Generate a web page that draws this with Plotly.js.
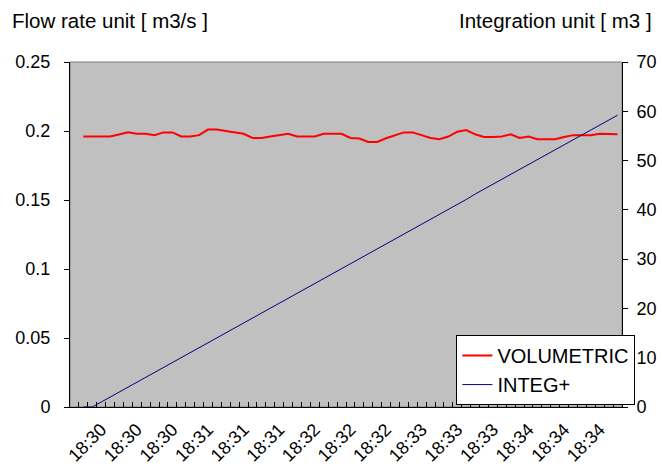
<!DOCTYPE html>
<html>
<head>
<meta charset="utf-8">
<script src="https://cdn.plot.ly/plotly-3.0.1.min.js"></script>
<style>
html,body{margin:0;padding:0;background:#fff;}
#chart{width:662px;height:472px;}
</style>
</head>
<body>
<div id="chart"></div>
<script>
// Time categories (5 s intervals)
var categories = [
 "18:29:45","18:29:50","18:29:55",
 "18:30:00","18:30:05","18:30:10","18:30:15","18:30:20","18:30:25","18:30:30","18:30:35","18:30:40","18:30:45","18:30:50","18:30:55",
 "18:31:00","18:31:05","18:31:10","18:31:15","18:31:20","18:31:25","18:31:30","18:31:35","18:31:40","18:31:45","18:31:50","18:31:55",
 "18:32:00","18:32:05","18:32:10","18:32:15","18:32:20","18:32:25","18:32:30","18:32:35","18:32:40","18:32:45","18:32:50","18:32:55",
 "18:33:00","18:33:05","18:33:10","18:33:15","18:33:20","18:33:25","18:33:30","18:33:35","18:33:40","18:33:45","18:33:50","18:33:55",
 "18:34:00","18:34:05","18:34:10","18:34:15","18:34:20","18:34:25","18:34:30","18:34:35","18:34:40","18:34:45","18:34:50"
];

// Flow rate [m3/s]
var volumetric = [
 null,0.196,0.196,0.196,0.196,0.1975,0.199,0.198,0.198,0.197,0.199,0.199,0.196,0.196,0.197,
 0.201,0.201,0.200,0.199,0.198,0.195,0.195,0.196,0.197,0.198,0.196,0.196,0.196,0.198,0.198,
 0.198,0.195,0.1945,0.192,0.192,0.1947,0.197,0.199,0.199,0.197,0.195,0.194,0.196,0.1995,0.2007,
 0.1976,0.1957,0.1957,0.196,0.1976,0.195,0.196,0.194,0.194,0.194,0.1957,0.197,0.197,0.197,0.198,
 0.198,0.1976
];

// Integration [m3]
var integ = [
 null,0,0,1.0,2.0,3.0,4.0,5.0,6.0,7.0,8.0,9.0,10.0,11.0,12.0,
 13.0,14.0,15.1,16.1,17.1,18.1,19.1,20.1,21.1,22.1,23.1,24.1,25.1,26.1,27.1,
 28.1,29.1,30.1,31.1,32.1,33.1,34.1,35.1,36.1,37.1,38.1,39.1,40.1,41.1,42.1,
 43.2,44.2,45.2,46.2,47.2,48.2,49.2,50.2,51.2,52.2,53.2,54.2,55.2,56.2,57.2,
 58.2,59.2
];

// Tick labels shown on the category axis
var tickCats = ["18:30:00","18:30:20","18:30:40","18:31:00","18:31:20","18:31:40","18:32:00","18:32:20","18:32:40","18:33:00","18:33:20","18:33:40","18:34:00","18:34:20","18:34:40"];
var tickLabels = ["18:30","18:30","18:30","18:31","18:31","18:31","18:32","18:32","18:32","18:33","18:33","18:33","18:34","18:34","18:34"];

var tickText = categories.map(function(c){
  var i = tickCats.indexOf(c);
  return i >= 0 ? tickLabels[i] : "";
});

var FONT = "Liberation Sans, Arial, sans-serif";

var traces = [
  {x: categories, y: volumetric, type: "scatter", mode: "lines", name: "VOLUMETRIC",
   line: {color: "#ff0000", width: 2}, yaxis: "y", connectgaps: false},
  {x: categories, y: integ, type: "scatter", mode: "lines", name: "INTEG+",
   line: {color: "#000080", width: 1}, yaxis: "y2", connectgaps: false}
];

var layout = {
  width: 662, height: 472,
  margin: {l: 70, r: 40, t: 62, b: 65},
  paper_bgcolor: "#ffffff",
  plot_bgcolor: "#c0c0c0",
  font: {family: FONT, size: 18, color: "#000"},
  showlegend: true,
  legend: {x: 0.70, y: 0.107, xanchor: "left", yanchor: "middle",
    bgcolor: "#ffffff", bordercolor: "#000000", borderwidth: 1,
    font: {family: FONT, size: 20, color: "#000"}, tracegroupgap: 0, itemwidth: 30},
  xaxis: {
    type: "category", categoryorder: "array", categoryarray: categories,
    tickmode: "array", tickvals: categories, ticktext: tickText,
    tickson: "boundaries", ticks: "inside", ticklen: 5, tickcolor: "#000", tickwidth: 1,
    tickangle: -45, showgrid: false, zeroline: false,
    showline: true, linecolor: "#000", linewidth: 1,
    ticklabelstandoff: 4,
    range: [-0.5, categories.length - 0.5],
    tickfont: {family: FONT, size: 18, color: "#000"}
  },
  yaxis: {
    range: [0, 0.25], dtick: 0.05, tick0: 0, showgrid: false, zeroline: false,
    showline: true, linecolor: "#000", linewidth: 1,
    ticks: "outside", ticklen: 5, tickcolor: "#000",
    ticklabelstandoff: 10,
    tickfont: {family: FONT, size: 18, color: "#000"}
  },
  yaxis2: {
    overlaying: "y", side: "right", range: [0, 70], dtick: 10, tick0: 0,
    showgrid: false, zeroline: false,
    showline: true, linecolor: "#000", linewidth: 1,
    ticks: "outside", ticklen: 5, tickcolor: "#000",
    ticklabelstandoff: 5,
    tickfont: {family: FONT, size: 18, color: "#000"}
  },
  shapes: [
    {type: "rect", xref: "paper", yref: "paper", x0: 0, x1: 1, y0: 0, y1: 1,
     line: {color: "#808080", width: 1}, fillcolor: "rgba(0,0,0,0)", layer: "below"}
  ],
  annotations: [
    {text: "Flow rate unit [ m3/s ]", xref: "paper", yref: "paper",
     x: -0.109, y: 1.12, xanchor: "left", yanchor: "middle", showarrow: false,
     font: {family: FONT, size: 20.5, color: "#000"}},
    {text: "Integration unit [ m3 ]", xref: "paper", yref: "paper",
     x: 1.058, y: 1.12, xanchor: "right", yanchor: "middle", showarrow: false,
     font: {family: FONT, size: 20.5, color: "#000"}}
  ]
};

Plotly.newPlot("chart", traces, layout, {displayModeBar: false, staticPlot: true});
</script>
</body>
</html>
